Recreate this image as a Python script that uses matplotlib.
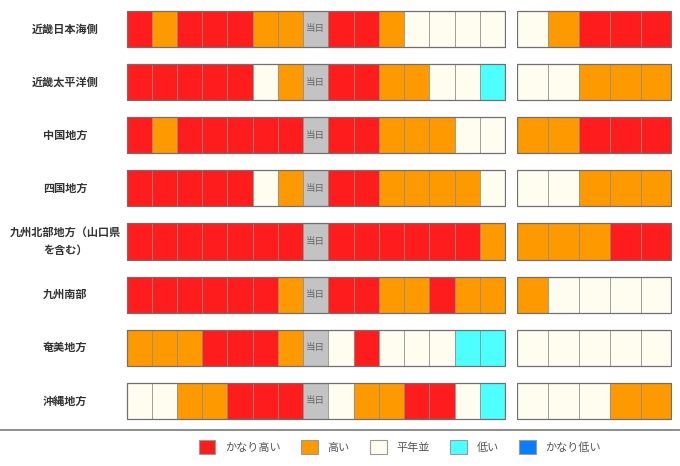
import matplotlib
matplotlib.use('Agg')
import matplotlib.pyplot as plt
import matplotlib.transforms as mtransforms
from matplotlib.patches import Patch
from matplotlib.lines import Line2D

plt.rcParams['font.family'] = ['Noto Sans CJK JP', 'DejaVu Sans']

# 地域名
regions = ['近畿日本海側', '近畿太平洋側', '中国地方', '四国地方',
           '九州北部地方（山口県\nを含む）', '九州南部', '奄美地方', '沖縄地方']

# 階級: 0=かなり高い 1=高い 2=平年並 3=低い 4=かなり低い, -1=当日
left_days = [
    [0, 1, 0, 0, 0, 1, 1, -1, 0, 0, 1, 2, 2, 2, 2],
    [0, 0, 0, 0, 0, 2, 1, -1, 0, 0, 1, 1, 2, 2, 3],
    [0, 1, 0, 0, 0, 0, 0, -1, 0, 0, 1, 1, 1, 2, 2],
    [0, 0, 0, 0, 0, 2, 1, -1, 0, 0, 1, 1, 1, 1, 2],
    [0, 0, 0, 0, 0, 0, 0, -1, 0, 0, 0, 0, 0, 0, 1],
    [0, 0, 0, 0, 0, 0, 1, -1, 0, 0, 1, 1, 0, 1, 1],
    [1, 1, 1, 0, 0, 0, 1, -1, 2, 0, 2, 2, 2, 3, 3],
    [2, 2, 1, 1, 0, 0, 0, -1, 2, 1, 1, 0, 0, 2, 3],
]
right_days = [
    [2, 1, 0, 0, 0],
    [2, 2, 1, 1, 1],
    [1, 1, 0, 0, 0],
    [2, 2, 1, 1, 1],
    [1, 1, 1, 0, 0],
    [1, 2, 2, 2, 2],
    [2, 2, 2, 2, 2],
    [2, 2, 2, 1, 1],
]

class_names = ['かなり高い', '高い', '平年並', '低い', 'かなり低い']
class_colors = ['#ff1c1c', '#ff9900', '#fffdf0', '#4dffff', '#0a7cff']
today_color = '#c3c3c3'

fig = plt.figure(figsize=(6.8, 4.66), dpi=100)
W, H = 680, 466
row_step = 53.14
top = 29 - row_step / 2
ax_h = 8 * row_step
ax_left = fig.add_axes([126 / W, 1 - (top + ax_h) / H, 379.6 / W, ax_h / H])
ax_right = fig.add_axes([516.7 / W, 1 - (top + ax_h) / H, 155.3 / W, ax_h / H])


def draw_block(ax, data):
    n = len(data[0])
    for i, row in enumerate(data):
        for j, v in enumerate(row):
            c = today_color if v < 0 else class_colors[v]
            ax.barh(i, 1, left=j, height=0.68, color=c,
                    edgecolor='#8a8a8a', linewidth=0.5)
            if v < 0:
                ax.text(j + 0.5, i, '当日', ha='center', va='center',
                        fontsize=6.8, color='#666666')
        # 外枠
        ax.barh(i, n, left=0, height=0.68, fill=False,
                edgecolor='#707070', linewidth=0.9)
    ax.set_xlim(-0.02, n + 0.02)
    ax.set_ylim(len(data) - 0.5, -0.5)
    ax.axis('off')


draw_block(ax_left, left_days)
draw_block(ax_right, right_days)

trans = mtransforms.blended_transform_factory(fig.transFigure, ax_left.transData)
for i, name in enumerate(regions):
    ax_left.text(65 / W, i, name, transform=trans, ha='center', va='center',
                 fontsize=8, fontweight='bold', color='#333333', linespacing=1.5)

# 区切り線
fig.add_artist(Line2D([0, 1], [1 - 429.5 / H, 1 - 429.5 / H],
                      transform=fig.transFigure, color='#7a7a7a', linewidth=1.2))

handles = [Patch(facecolor=c, edgecolor='#9a9a9a', linewidth=0.8)
           for c in class_colors]
fig.legend(handles, class_names, loc='center', bbox_to_anchor=(400 / W, 1 - 447 / H),
           ncol=5, frameon=False, fontsize=8, labelcolor='#555555',
           handlelength=1.5, handleheight=1.45, handletextpad=0.9,
           columnspacing=1.8)

fig.savefig('out.png', dpi=100)
